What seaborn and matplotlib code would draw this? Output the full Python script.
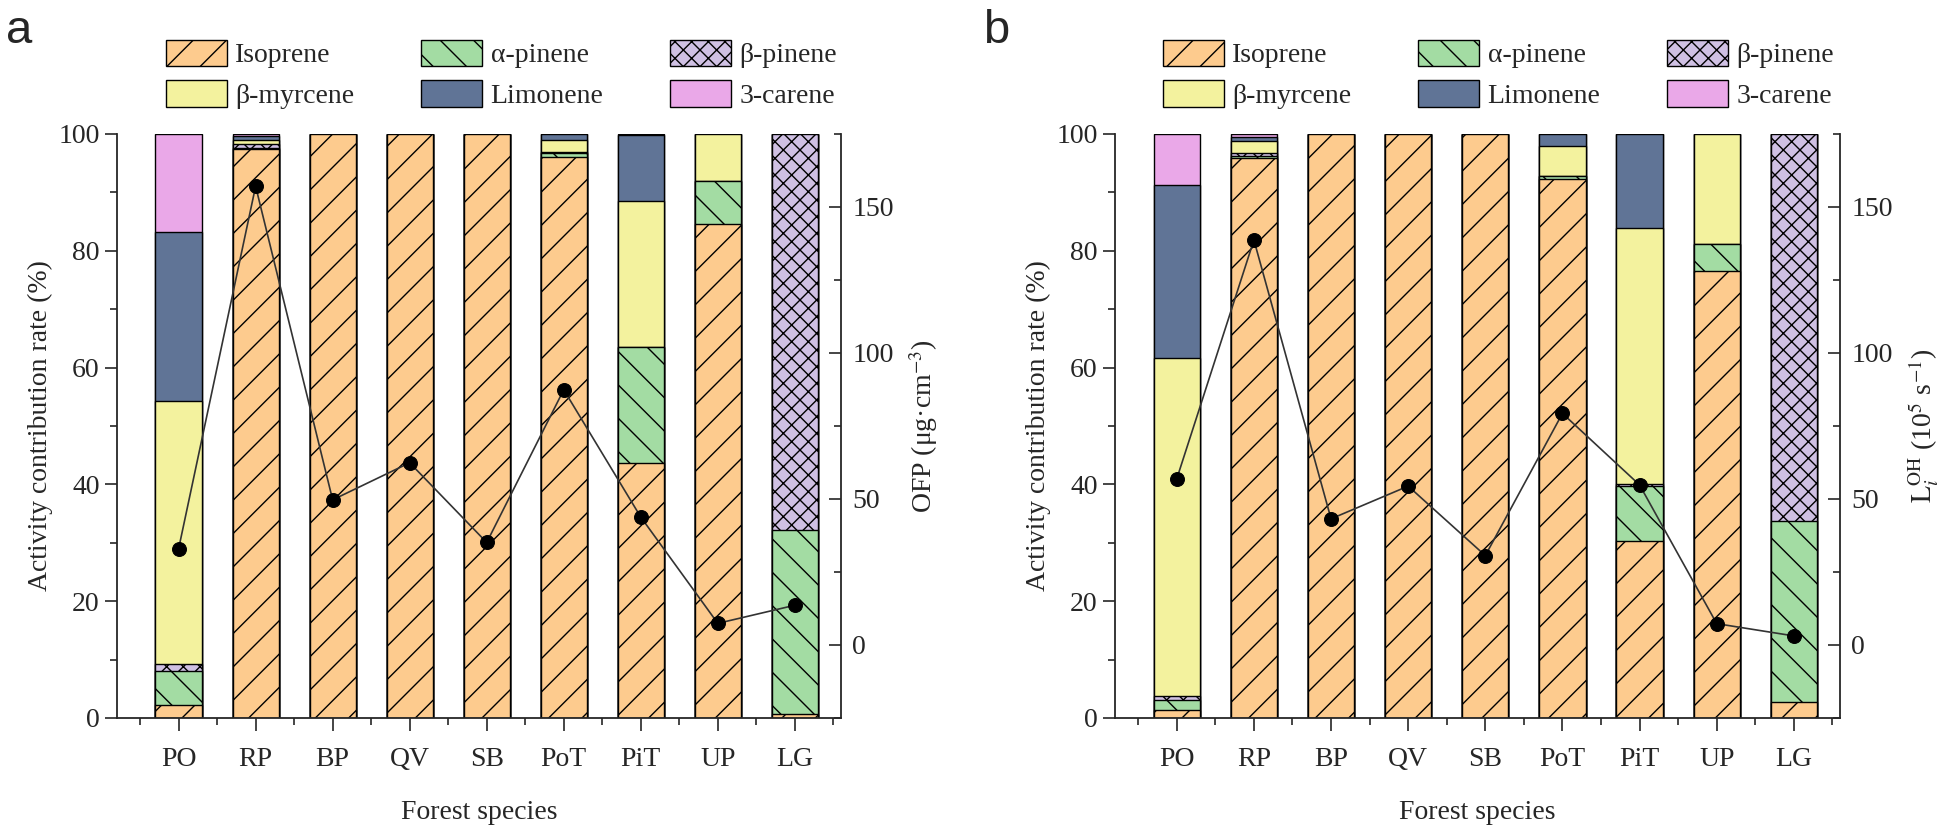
import numpy as np
import matplotlib
matplotlib.use('Agg')
import matplotlib.pyplot as plt
import seaborn as sns
from matplotlib.patches import Patch
from matplotlib.ticker import MultipleLocator

species = ['PO', 'RP', 'BP', 'QV', 'SB', 'PoT', 'PiT', 'UP', 'LG']
compounds = ['Isoprene', 'α-pinene', 'β-pinene', 'β-myrcene', 'Limonene', '3-carene']

# panel a: activity contribution (%), stacked bottom -> top in compound order
isoprene_a = [2.3, 97.4, 100, 100, 100, 96.1, 43.7, 84.6, 0.7]
apinene_a = [5.7, 0.2, 0, 0, 0, 0.7, 19.9, 7.4, 31.5]
bpinene_a = [1.3, 0.6, 0, 0, 0, 0.1, 0, 0, 67.8]
myrcene_a = [44.9, 0.8, 0, 0, 0, 2.0, 24.9, 8.0, 0]
limonene_a = [29.0, 0.6, 0, 0, 0, 1.1, 11.4, 0, 0]
carene_a = [16.8, 0.4, 0, 0, 0, 0, 0.1, 0, 0]
ofp = [32.9, 157.1, 49.7, 62.4, 35.1, 87.4, 43.8, 7.4, 13.6]

# panel b
isoprene_b = [1.3, 95.9, 100, 100, 100, 92.3, 30.3, 76.6, 2.8]
apinene_b = [1.8, 0.3, 0, 0, 0, 0.5, 9.4, 4.5, 30.9]
bpinene_b = [0.7, 0.6, 0, 0, 0, 0, 0.3, 0, 66.3]
myrcene_b = [57.9, 2.0, 0, 0, 0, 5.1, 43.9, 18.9, 0]
limonene_b = [29.6, 0.7, 0, 0, 0, 2.1, 16.1, 0, 0]
carene_b = [8.7, 0.5, 0, 0, 0, 0, 0, 0, 0]
loh = [56.9, 138.7, 43.2, 54.4, 30.6, 79.3, 54.8, 7.3, 3.1]

colors = ['#FDCB8E', '#A3DCA3', '#CFC0E3', '#F3F29E', '#607496', '#EAA8E8']
hatches = ['/', '\\', 'xx', '', '', '']

sns.set_style('ticks')
plt.rcParams['font.family'] = ['Liberation Serif', 'DejaVu Serif']
plt.rcParams['mathtext.fontset'] = 'stix'
plt.rcParams['hatch.color'] = 'black'
plt.rcParams['hatch.linewidth'] = 1.0
plt.rcParams['axes.linewidth'] = 1.3


def draw_panel(fig, rect, layers, line_vals, right_label):
    ax = fig.add_axes(rect)
    cum = np.cumsum(np.array(layers, dtype=float), axis=0)
    # draw cumulative totals from the top layer down, each lower layer covers the one before
    for i in range(len(compounds) - 1, -1, -1):
        sns.barplot(x=species, y=cum[i], order=species, color=colors[i], saturation=1,
                    hatch=hatches[i], edgecolor='black', linewidth=1.0, width=0.6,
                    errorbar=None, ax=ax)
    ax.set_xlim(-0.8, 8.6)
    ax.set_ylim(0, 100)
    ax.yaxis.set_major_locator(MultipleLocator(20))
    ax.yaxis.set_minor_locator(MultipleLocator(10))
    ax.xaxis.set_minor_locator(MultipleLocator(1, offset=0.5))
    ax.tick_params(axis='both', which='major', direction='out', length=9, width=1.2, labelsize=20)
    ax.tick_params(axis='both', which='minor', direction='out', length=5, width=1.2)
    ax.tick_params(axis='x', which='major', pad=12)
    ax.spines['top'].set_visible(False)
    ax.spines['right'].set_visible(False)
    ax.set_xlabel('Forest species', fontsize=20, labelpad=20)
    ax.set_ylabel('Activity contribution rate (%)', fontsize=20, labelpad=4)

    ax2 = ax.twinx()
    sns.lineplot(x=np.arange(len(species)), y=line_vals, ax=ax2, color='#333333', linewidth=1.2,
                 marker='o', markersize=10, markerfacecolor='black', markeredgecolor='black')
    ax2.set_ylim(-25, 175)
    ax2.yaxis.set_minor_locator(MultipleLocator(25))
    ax2.set_yticks([0, 50, 100, 150])
    ax2.tick_params(axis='y', which='major', direction='in', length=9, width=1.2, labelsize=20, pad=8)
    ax2.tick_params(axis='y', which='minor', direction='in', length=5, width=1.2)
    for side in ['top', 'left', 'bottom']:
        ax2.spines[side].set_visible(False)
    ax2.set_ylabel(right_label, fontsize=20, labelpad=10)
    return ax, ax2


fig = plt.figure(figsize=(19.46, 8.26), dpi=100)

draw_panel(fig, [0.0601, 0.1308, 0.3721, 0.7070],
           [isoprene_a, apinene_a, bpinene_a, myrcene_a, limonene_a, carene_a],
           ofp, 'OFP (μg·cm$^{-3}$)')
draw_panel(fig, [0.5730, 0.1308, 0.3726, 0.7070],
           [isoprene_b, apinene_b, bpinene_b, myrcene_b, limonene_b, carene_b],
           loh, r'$\mathrm{L}_{i}^{\mathrm{OH}}$ (10$^{5}$ s$^{-1}$)')

handles = [Patch(facecolor=c, edgecolor='black', hatch=h, linewidth=1.0, label=n)
           for c, h, n in zip(colors, hatches, compounds)]
# column-major fill -> rows: Isoprene/α-pinene/β-pinene, β-myrcene/Limonene/3-carene
leg_order = [0, 3, 1, 4, 2, 5]
for x0 in [0.0853, 0.5976]:
    fig.legend([handles[i] for i in leg_order], [compounds[i] for i in leg_order],
               ncol=3, loc='upper left', bbox_to_anchor=(x0, 0.952), frameon=False,
               fontsize=20, handlelength=2.2, handleheight=1.1, handletextpad=0.3,
               columnspacing=2.4, labelspacing=0.43, borderpad=0, borderaxespad=0)

fig.text(0.003, 1 - 43 / 826, 'a', fontsize=34, family='Liberation Sans', va='baseline')
fig.text(0.505, 1 - 43 / 826, 'b', fontsize=34, family='Liberation Sans', va='baseline')

fig.savefig('out.png', dpi=100)
